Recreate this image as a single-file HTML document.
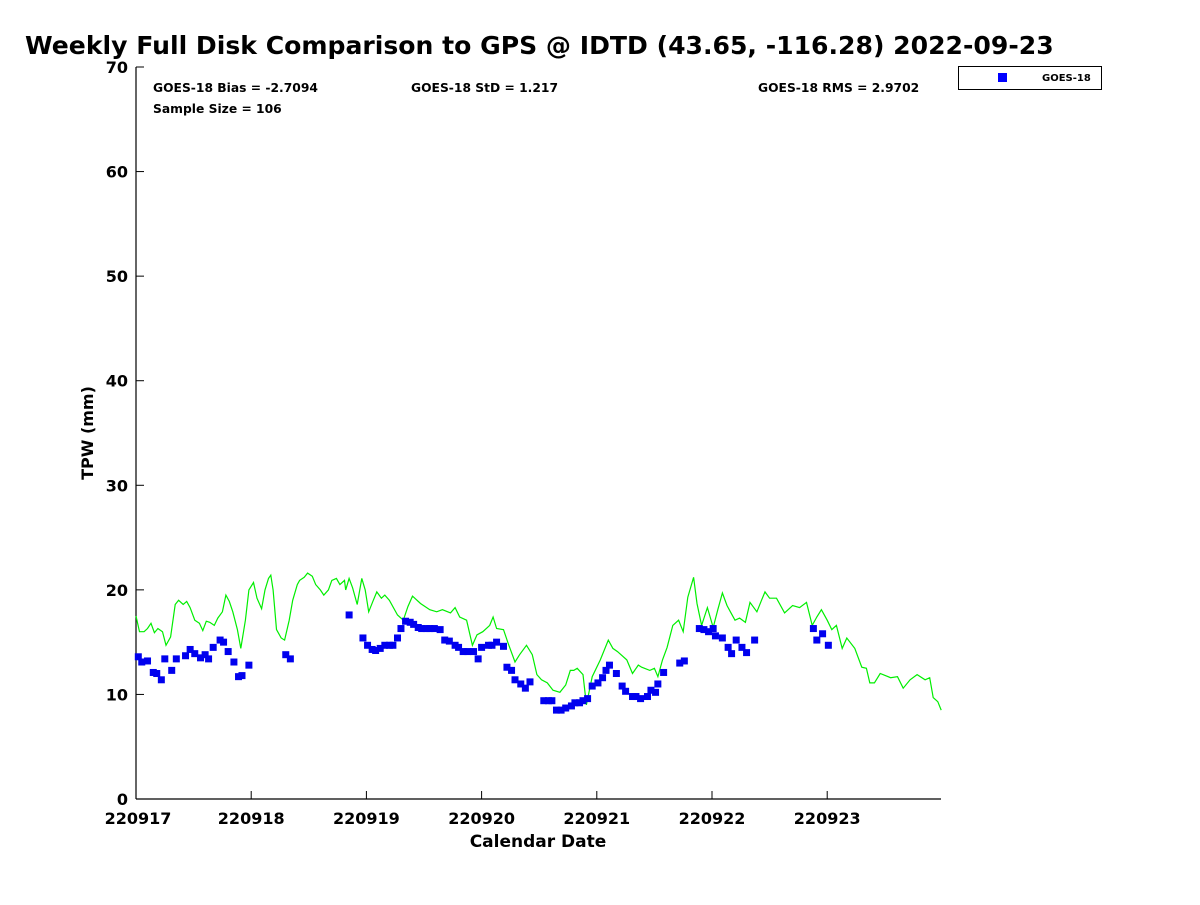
<!DOCTYPE html>
<html><head><meta charset="utf-8"><style>
body{margin:0;background:#fff;}
svg text{font-family:"DejaVu Sans","Liberation Sans",sans-serif;font-weight:bold;fill:#000;}
</style></head><body>
<svg id="chart" width="1200" height="900" xmlns="http://www.w3.org/2000/svg">
<rect width="1200" height="900" fill="#fff"/>
<text x="25" y="54" font-size="25.1">Weekly Full Disk Comparison to GPS @ IDTD (43.65, -116.28) 2022-09-23</text>
<g id="axes"></g>
<g id="marks"></g>
<text x="153" y="92" font-size="12.3">GOES-18 Bias = -2.7094</text>
<text x="411" y="92" font-size="12.3">GOES-18 StD = 1.217</text>
<text x="758" y="92" font-size="12.3">GOES-18 RMS = 2.9702</text>
<text x="153" y="113" font-size="12.3">Sample Size = 106</text>
<g>
<rect x="958.5" y="66.5" width="143" height="23" fill="#fff" stroke="#000" stroke-width="1"/>
<rect x="998" y="73" width="9" height="9" fill="#0000ff"/>
<text x="1042" y="81" font-size="10">GOES-18</text>
</g>
<text x="538" y="847" font-size="17" text-anchor="middle">Calendar Date</text>
<text x="0" y="0" font-size="16" text-anchor="middle" transform="translate(93,433) rotate(-90)">TPW (mm)</text>
</svg>
<script>
const xTickLabels=["220917","220918","220919","220920","220921","220922","220923"];
const yTickValues=[0,10,20,30,40,50,60,70];
const goesDays=[0.02,0.05,0.10,0.15,0.18,0.22,0.25,0.31,0.35,0.43,0.47,0.51,0.56,0.60,0.63,0.67,0.73,0.76,0.80,0.85,0.89,0.92,0.98,1.30,1.34,1.85,1.97,2.01,2.05,2.08,2.12,2.16,2.20,2.23,2.27,2.30,2.34,2.38,2.41,2.45,2.48,2.52,2.55,2.59,2.64,2.68,2.72,2.77,2.80,2.84,2.88,2.93,2.97,3.00,3.06,3.09,3.13,3.19,3.22,3.26,3.29,3.34,3.38,3.42,3.54,3.58,3.61,3.65,3.69,3.73,3.78,3.81,3.85,3.88,3.92,3.96,4.01,4.05,4.08,4.11,4.17,4.22,4.25,4.31,4.34,4.38,4.44,4.47,4.51,4.53,4.58,4.72,4.76,4.89,4.93,4.97,5.01,5.03,5.09,5.14,5.17,5.21,5.26,5.30,5.37,5.88,5.91,5.96,6.01];
const goesValues=[13.6,13.1,13.2,12.1,12.0,11.4,13.4,12.3,13.4,13.7,14.3,13.9,13.5,13.8,13.4,14.5,15.2,15.0,14.1,13.1,11.7,11.8,12.8,13.8,13.4,17.6,15.4,14.7,14.3,14.2,14.4,14.7,14.7,14.7,15.4,16.3,17.0,16.9,16.7,16.4,16.3,16.3,16.3,16.3,16.2,15.2,15.1,14.7,14.5,14.1,14.1,14.1,13.4,14.5,14.7,14.7,15.0,14.6,12.6,12.3,11.4,11.0,10.6,11.2,9.4,9.4,9.4,8.5,8.5,8.7,8.9,9.2,9.2,9.4,9.6,10.8,11.1,11.6,12.3,12.8,12.0,10.8,10.3,9.8,9.8,9.6,9.8,10.4,10.2,11.0,12.1,13.0,13.2,16.3,16.2,16.0,16.3,15.6,15.4,14.5,13.9,15.2,14.5,14.0,15.2,16.3,15.2,15.8,14.7];
const gpsDays=[0,0.03,0.07,0.10,0.13,0.16,0.19,0.23,0.26,0.30,0.34,0.37,0.41,0.44,0.47,0.51,0.55,0.58,0.61,0.64,0.68,0.71,0.75,0.78,0.81,0.84,0.88,0.91,0.95,0.98,1.02,1.05,1.09,1.12,1.15,1.17,1.19,1.22,1.26,1.29,1.33,1.36,1.40,1.42,1.46,1.49,1.53,1.56,1.60,1.63,1.67,1.70,1.74,1.77,1.81,1.82,1.85,1.88,1.92,1.96,1.99,2.02,2.06,2.09,2.13,2.16,2.20,2.27,2.32,2.36,2.40,2.47,2.55,2.61,2.66,2.73,2.77,2.81,2.87,2.92,2.96,3.01,3.07,3.10,3.13,3.19,3.23,3.29,3.33,3.39,3.44,3.48,3.52,3.57,3.62,3.68,3.73,3.77,3.80,3.83,3.88,3.91,3.96,4.03,4.10,4.14,4.18,4.26,4.31,4.36,4.39,4.46,4.50,4.53,4.57,4.61,4.66,4.71,4.75,4.79,4.84,4.87,4.91,4.96,5.01,5.05,5.09,5.13,5.16,5.20,5.24,5.29,5.33,5.39,5.43,5.46,5.50,5.56,5.63,5.70,5.76,5.82,5.87,5.91,5.95,6.00,6.04,6.08,6.13,6.17,6.24,6.30,6.34,6.37,6.41,6.46,6.55,6.61,6.66,6.72,6.78,6.85,6.89,6.92,6.96,6.99];
const gpsValues=[17.5,16.0,16.0,16.3,16.8,15.9,16.3,16.0,14.7,15.5,18.6,19.0,18.6,18.9,18.3,17.1,16.8,16.1,17.0,16.9,16.6,17.3,17.9,19.5,18.9,17.9,16.2,14.4,17.1,20.0,20.7,19.2,18.2,20.0,21.1,21.4,20.0,16.2,15.4,15.2,17.1,19.0,20.5,20.9,21.2,21.6,21.3,20.5,20.0,19.5,20.0,20.9,21.1,20.5,20.9,20.0,21.1,20.2,18.6,21.1,20.0,17.9,19.0,19.8,19.2,19.5,19.0,17.6,17.1,18.4,19.4,18.7,18.1,17.9,18.1,17.8,18.3,17.4,17.1,14.7,15.7,16.0,16.6,17.4,16.3,16.2,14.9,13.1,13.8,14.7,13.8,11.9,11.4,11.1,10.4,10.2,10.9,12.3,12.3,12.5,11.9,9.0,11.7,13.3,15.2,14.4,14.1,13.3,12.0,12.8,12.6,12.3,12.5,11.7,13.3,14.5,16.6,17.1,16.0,19.3,21.2,18.7,16.6,18.3,16.4,18.1,19.7,18.5,17.9,17.1,17.3,16.9,18.8,17.9,19.0,19.8,19.2,19.2,17.8,18.5,18.3,18.8,16.6,17.4,18.1,17.1,16.2,16.6,14.4,15.4,14.4,12.6,12.5,11.1,11.1,12.0,11.6,11.7,10.6,11.4,11.9,11.4,11.6,9.7,9.3,8.5];

const NS="http://www.w3.org/2000/svg";
const X0=136,X1=941,Y0=799,Y1=67;
const xs=d=>X0+d*115.2;
const ys=v=>Y0-(v/70)*(Y0-Y1);
const axes=document.getElementById('axes'),marks=document.getElementById('marks');
function mk(tag,attrs,parent){const e=document.createElementNS(NS,tag);for(const k in attrs)e.setAttribute(k,attrs[k]);parent.appendChild(e);return e;}
let e=mk('line',{x1:X0,y1:Y1,x2:X0,y2:Y0,stroke:'#000','stroke-width':1.2},axes);


e=mk('line',{x1:X0,y1:Y0,x2:X1,y2:Y0,stroke:'#000','stroke-width':1.2},axes);


yTickValues.forEach(v=>{
  const y=ys(v);
  let t=mk('line',{x1:X0,y1:y,x2:X0+8,y2:y,stroke:'#000'},axes);
  
  
  let l=mk('text',{x:X0-8,y:y+6,'font-size':16,'text-anchor':'end'},axes);
  l.textContent=v;
  
  
});
xTickLabels.forEach((s,i)=>{
  const x=xs(i);
  let t=mk('line',{x1:x,y1:Y0,x2:x,y2:Y0-8,stroke:'#000'},axes);
  
  
  let l=mk('text',{x:x+(i==0?2:0),y:Y0+25,'font-size':16,'text-anchor':'middle'},axes);
  l.textContent=s;
  
  
});
const pts=gpsDays.map((d,i)=>xs(d).toFixed(1)+','+ys(gpsValues[i]).toFixed(1)).join(' ');
const pl=mk('polyline',{points:pts,fill:'none',stroke:'#00ee00','stroke-width':1.2},marks);


goesDays.forEach((d,i)=>{
  const r=mk('rect',{x:xs(d)-3.5,y:ys(goesValues[i])-3.5,width:7,height:7,fill:'#0000ee'},marks);
  
  
});
</script>
</body></html>
